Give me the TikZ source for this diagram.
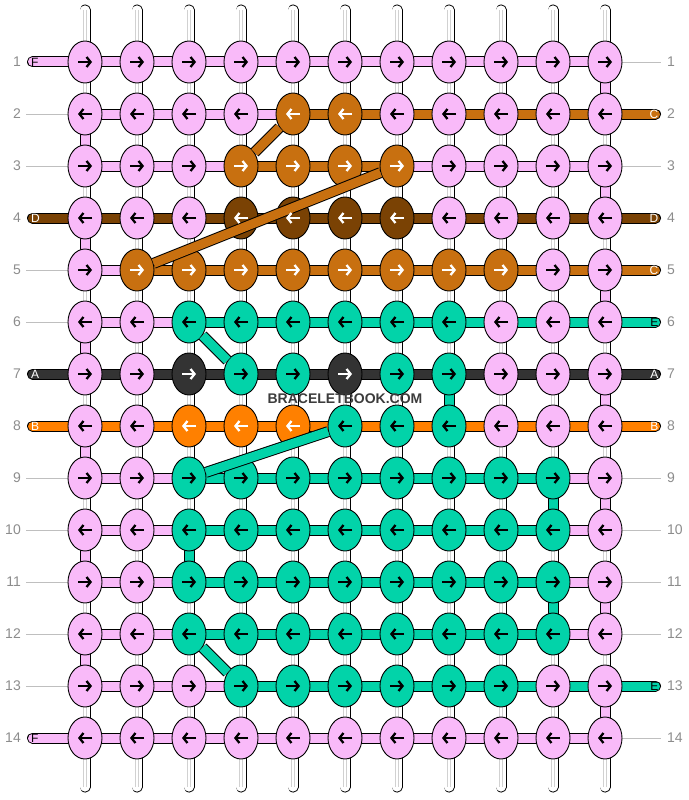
\documentclass[tikz,border=0pt]{standalone}
\usepackage{fontspec}
\setmainfont{Liberation Sans}
\usepackage{tikz}
\usetikzlibrary{arrows.meta,shapes.geometric,calc}
\pgfdeclarelayer{background}
\pgfdeclarelayer{foreground}
\pgfdeclarelayer{marks}
\pgfsetlayers{background,main,foreground,marks}
% thread colours
\definecolor{colF}{RGB}{249,186,249}
\definecolor{colC}{RGB}{200,112,16}
\definecolor{colD}{RGB}{122,66,4}
\definecolor{colE}{RGB}{2,211,169}
\definecolor{colA}{RGB}{51,51,51}
\definecolor{colB}{RGB}{255,128,0}
\colorlet{arrF}{black}
\colorlet{arrE}{black}
\colorlet{arrC}{white}
\colorlet{arrD}{white}
\colorlet{arrA}{white}
\colorlet{arrB}{white}
\definecolor{numgray}{RGB}{140,140,140}
\definecolor{wmark}{RGB}{60,60,60}
\tikzstyle{knot}=[ellipse, draw=black, line width=0.9pt, minimum width=34pt,
  minimum height=42pt, inner sep=0pt]
\tikzstyle{warp}=[draw=black, line width=0.9pt, double=white, double distance=9.2pt,
  line cap=round]
\tikzstyle{warpline}=[draw=black!18, line width=0.7pt]
\tikzstyle{guide}=[draw=black!25, line width=0.8pt]
\tikzstyle{rownum}=[text=numgray, inner sep=0pt, font=\fontsize{14}{14}\selectfont]
\tikzstyle{tag}=[inner sep=0pt, font=\fontsize{12}{12}\selectfont]
\tikzset{knotarrow/.style={line width=2.3pt, -{Straight Barb[length=4pt,width=10pt]}}}
\tikzset{band/.style={draw=black, line width=1pt, double=#1, double distance=9pt}}
\tikzset{strand/.style={band=#1, line cap=round}}

\begin{document}
\begin{tikzpicture}[x=1pt,y=-1pt]
  \useasboundingbox (0,0) rectangle (688,800);

  % Draw knots (colour of each knot, direction of the row)
  \foreach \row/\dir/\knots in {
    1/1/{F,F,F,F,F,F,F,F,F,F,F},
    2/-1/{F,F,F,F,C,C,F,F,F,F,F},
    3/1/{F,F,F,C,C,C,C,F,F,F,F},
    4/-1/{F,F,F,D,D,D,D,F,F,F,F},
    5/1/{F,C,C,C,C,C,C,C,C,F,F},
    6/-1/{F,F,E,E,E,E,E,E,F,F,F},
    7/1/{F,F,A,E,E,A,E,E,F,F,F},
    8/-1/{F,F,B,B,B,E,E,E,F,F,F},
    9/1/{F,F,E,E,E,E,E,E,E,E,F},
    10/-1/{F,F,E,E,E,E,E,E,E,E,F},
    11/1/{F,F,E,E,E,E,E,E,E,E,F},
    12/-1/{F,F,E,E,E,E,E,E,E,E,F},
    13/1/{F,F,F,E,E,E,E,E,E,F,F},
    14/-1/{F,F,F,F,F,F,F,F,F,F,F}}
  {
    \foreach \col [count=\kc] in \knots {
      \node[knot, fill=col\col] (k-\row-\kc) at ({33+52*\kc},{10+52*\row}) {};
      \begin{pgfonlayer}{marks}
        \draw[knotarrow, draw=arr\col] (k-\row-\kc.center) ++({-7*(\dir)},0) -- ++({14*(\dir)},0);
      \end{pgfonlayer}
    }
  }

  \begin{pgfonlayer}{background}
    % warp threads
    \foreach \kc in {1,...,11} {
      \path (k-1-\kc.center) ++(0,-52) coordinate (wt-\kc);
      \path (k-14-\kc.center) ++(0,49) coordinate (wb-\kc);
      \draw[warp] (wt-\kc) -- (wb-\kc);
      \draw[warpline] ([xshift=-1.5pt]wt-\kc) -- ([xshift=-1.5pt]wb-\kc);
      \draw[warpline] ([xshift=1.5pt]wt-\kc) -- ([xshift=1.5pt]wb-\kc);
    }

    % bands between knots of a row
    \foreach \row/\segs in {
      1/{F,F,F,F,F,F,F,F,F,F},
      2/{F,F,F,F,C,C,C,C,C,C},
      3/{F,F,F,C,C,C,F,F,F,F},
      4/{D,D,D,D,D,D,D,D,D,D},
      5/{F,C,C,C,C,C,C,C,C,C},
      6/{F,F,E,E,E,E,E,E,E,E},
      7/{A,A,A,A,A,A,A,A,A,A},
      8/{B,B,B,B,B,B,B,B,B,B},
      9/{F,F,E,E,E,E,E,E,E,F},
      10/{F,F,E,E,E,E,E,E,E,F},
      11/{F,F,E,E,E,E,E,E,E,F},
      12/{F,F,E,E,E,E,E,E,E,F},
      13/{F,F,F,E,E,E,E,E,E,E},
      14/{F,F,F,F,F,F,F,F,F,F}}
      \foreach \col [count=\kc] in \segs {
        \pgfmathtruncatemacro{\nx}{\kc+1}
        \draw[band=col\col] (k-\row-\kc.center) -- (k-\row-\nx.center);
      }

    % turns from one row to the next
    \foreach \row/\kc/\col in {1/11/F,2/1/F,3/11/F,4/1/F,5/11/F,6/1/F,7/11/F,
      8/1/F,9/11/F,10/1/F,11/11/F,12/1/F,13/11/F,7/8/E,9/10/E,10/3/E,11/10/E} {
      \pgfmathtruncatemacro{\nx}{\row+1}
      \draw[band=col\col] (k-\row-\kc.center) -- (k-\nx-\kc.center);
    }

    % row numbers
    \foreach \row in {1,...,14} {
      \node[rownum, anchor=east] (ln-\row) at (21,{10+52*\row}) {\row};
      \node[rownum, anchor=west] (rn-\row) at (667,{10+52*\row}) {\row};
    }
    \foreach \row in {2,3,5,6,9,10,11,12,13}
      \draw[guide] ([xshift=5pt]ln-\row.east) -- (k-\row-1.west);
    \foreach \row in {1,3,9,10,11,12,14}
      \draw[guide] (k-\row-11.east) -- ([xshift=-6pt]rn-\row.west);

    % loose ends
    \foreach \row/\col in {1/F,4/D,7/A,8/B,14/F} {
      \path (k-\row-1.center) ++(-52.5,0) coordinate (le-\row);
      \draw[strand=col\col] (k-\row-1.center) -- (le-\row);
      \node[tag, text=arr\col, anchor=west] (lt-\row) at ([xshift=-1.5pt]le-\row) {\col};
    }
    \foreach \row/\col in {2/C,4/D,5/C,6/E,7/A,8/B,13/E} {
      \path (k-\row-11.center) ++(50.5,0) coordinate (re-\row);
      \draw[strand=col\col] (k-\row-11.center) -- (re-\row);
      \node[tag, text=arr\col, anchor=east] (rt-\row) at ([xshift=3pt]re-\row) {\col};
    }
  \end{pgfonlayer}

  % Draw threads running across rows
  \begin{pgfonlayer}{foreground}
    \draw[band=colC] (k-2-5) -- (k-3-4);
    \draw[band=colC] (k-3-7) -- (k-5-2);
    \draw[band=colE] (k-6-3) -- (k-7-4);
    \draw[band=colE] (k-8-6) -- (k-9-3);
    \draw[band=colE] (k-12-3) -- (k-13-4);
  \end{pgfonlayer}

  \begin{pgfonlayer}{marks}
    \node[text=wmark, inner sep=0pt, font=\fontsize{14}{14}\selectfont\bfseries]
      (wm) at (345,399) {BRACELETBOOK.COM};
  \end{pgfonlayer}
\end{tikzpicture}
\end{document}
